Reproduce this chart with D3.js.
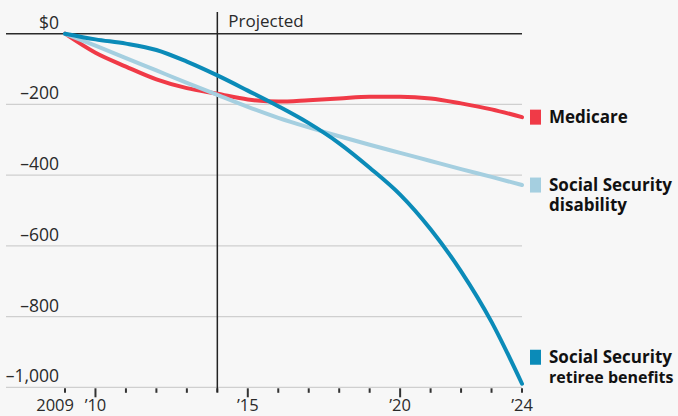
<!DOCTYPE html>
<html>
<head>
<meta charset="utf-8">
<script src="https://cdn.jsdelivr.net/npm/d3@7"></script>
<style>
  html, body { margin: 0; padding: 0; background: #f7f7f7; }
  svg { display: block; }
  text { font-family: "Open Sans", "Noto Sans", sans-serif; }
</style>
</head>
<body>
<div id="chart"></div>
<script>
// Change in trust-fund balance, billions of dollars, 2009–2024
const years = [2009, 2010, 2011, 2012, 2013, 2014, 2015, 2016, 2017, 2018, 2019, 2020, 2021, 2022, 2023, 2024];
const medicare   = [0, -54, -93, -129, -154, -170, -186, -192, -188, -183, -178, -178, -183, -197, -214, -236];
const disability = [0, -34, -69, -104, -139, -173, -207, -238, -265, -290, -314, -337, -360, -383, -405, -428];
const retiree    = [0, -16, -28, -46, -79, -118, -161, -205, -253, -310, -379, -455, -553, -672, -815, -990];

const yTicks = [0, -200, -400, -600, -800, -1000];
const yTickLabels = ["$0", "\u2013200", "\u2013400", "\u2013600", "\u2013800", "\u20131,000"];
const xTickYears = [2009, 2010, 2015, 2020, 2024];
const xTickLabels = ["2009", "\u201910", "\u201915", "\u201920", "\u201924"];
const majorYears = [2010, 2015, 2020];
const projectedStart = 2014;

const seriesNames = ["Medicare", "Social Security disability", "Social Security retiree benefits"];
const seriesLines = [["Medicare"], ["Social Security", "disability"], ["Social Security", "retiree benefits"]];
const seriesColors = ["#f03a47", "#a5cfe0", "#0b8bb8"];

const W = 678, H = 416;
const svg = d3.select("#chart").append("svg").attr("width", W).attr("height", H);
svg.append("rect").attr("width", W).attr("height", H).attr("fill", "#f7f7f7");

const x = d3.scaleLinear().domain([2009, 2024]).range([65, 522]);
const y = d3.scaleLinear().domain([0, -1000]).range([33.7, 387.3]);
const gridLeft = 6, gridRight = 522;

// horizontal gridlines and y labels
const yAxis = svg.append("g");
yTicks.forEach((v, i) => {
  yAxis.append("line")
    .attr("x1", gridLeft).attr("x2", gridRight)
    .attr("y1", y(v)).attr("y2", y(v))
    .attr("stroke", v === 0 ? "#2b2b2b" : "#cfcfcf")
    .attr("stroke-width", v === 0 ? 1.5 : 1.2);
  yAxis.append("text")
    .attr("x", 59).attr("y", y(v) - 5)
    .attr("text-anchor", "end")
    .attr("font-size", 17.5)
    .attr("fill", "#2a2a2a")
    .text(yTickLabels[i]);
});

// year ticks along the bottom
const xAxis = svg.append("g");
d3.range(2009, 2025).forEach(yr => {
  const major = majorYears.includes(yr);
  xAxis.append("line")
    .attr("x1", x(yr)).attr("x2", x(yr))
    .attr("y1", y(-1000) + 1).attr("y2", y(-1000) + (major ? 10 : 5.5))
    .attr("stroke", "#333").attr("stroke-width", 2);
});
xTickYears.forEach((yr, i) => {
  // the first year label sits left of its tick so it clears the '10 label
  const first = i === 0;
  xAxis.append("text")
    .attr("x", first ? x(yr) + 9 : x(yr)).attr("y", 411)
    .attr("text-anchor", first ? "end" : "middle")
    .attr("font-size", 16.5)
    .attr("fill", "#2a2a2a")
    .text(xTickLabels[i]);
});

// projection divider
svg.append("line")
  .attr("x1", x(projectedStart)).attr("x2", x(projectedStart))
  .attr("y1", 12).attr("y2", 392)
  .attr("stroke", "#222").attr("stroke-width", 1.5);
svg.append("text")
  .attr("x", x(projectedStart) + 11).attr("y", 27)
  .attr("font-size", 17)
  .attr("fill", "#2a2a2a")
  .text("Projected");

// series lines
const seriesValues = [medicare, disability, retiree];
const line = d3.line()
  .x((d, i) => x(years[i]))
  .y(d => y(d))
  .curve(d3.curveMonotoneX);

seriesValues.forEach((vals, k) => {
  svg.append("path")
    .datum(vals)
    .attr("d", line)
    .attr("fill", "none")
    .attr("stroke", seriesColors[k])
    .attr("stroke-width", 4)
    .attr("stroke-linejoin", "round")
    .attr("stroke-linecap", "round");
});

// end labels with colour keys
const labelX = 549;
const labelSize = 17;
const labelFloor = y(-915);
seriesValues.forEach((vals, k) => {
  const cy = Math.min(y(vals[vals.length - 1]), labelFloor);
  const g = svg.append("g").attr("aria-label", seriesNames[k]);
  g.append("rect")
    .attr("x", 530).attr("y", cy - 7.5)
    .attr("width", 11).attr("height", 15)
    .attr("fill", seriesColors[k]);
  const label = g.append("text")
    .attr("x", labelX).attr("y", cy + 6)
    .attr("font-size", labelSize)
    .attr("font-weight", 700)
    .attr("fill", "#111");
  seriesLines[k].forEach((t, j) => {
    const ts = label.append("tspan")
      .attr("x", labelX)
      .attr("dy", j === 0 ? 0 : 20)
      .text(t);
    // use a slightly smaller size for a line that would run past the right edge
    const room = W - 4 - labelX;
    const len = ts.node().getComputedTextLength();
    if (len > room) {
      ts.attr("font-size", Math.floor(labelSize * room / len * 10) / 10);
    }
  });
});
</script>
</body>
</html>
